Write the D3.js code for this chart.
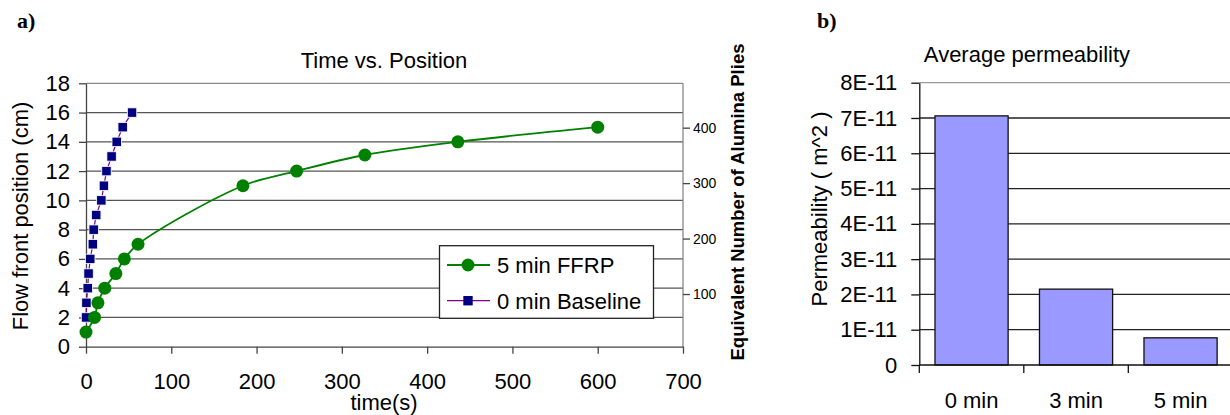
<!DOCTYPE html>
<html>
<head>
<meta charset="utf-8">
<script src="https://cdn.jsdelivr.net/npm/d3@7"></script>
<style>
	body { margin: 0; background: #fff; }
	svg text { font-family: "Liberation Sans", Arial, sans-serif; fill: #000; }
</style>
</head>
<body>
<svg id="fig" width="1230" height="415"></svg>
<script>
//Data
var ffrpTime = [0, 10, 14, 22, 35, 45, 61, 184, 247, 327, 436, 600];
var ffrpPos = [1, 2, 3, 4, 5, 6, 7, 11, 12, 13.1, 14, 15];
var baseTime = [0, 0.5, 2, 3, 5, 8, 9, 12, 18, 21, 24, 30, 36, 43, 54];
var basePos = [2, 3, 4, 5, 6, 7, 8, 9, 10, 11, 12, 13, 14, 15, 16];
var timeTicks = [0, 100, 200, 300, 400, 500, 600, 700];
var posTicks = [0, 2, 4, 6, 8, 10, 12, 14, 16, 18];
var pliesTicks = [100, 200, 300, 400];
var seriesNames = ["5 min FFRP", "0 min Baseline"];

var permCats = ["0 min", "3 min", "5 min"];
var permVals = [7.06e-11, 2.15e-11, 0.77e-11];
var permTicks = [0, 1e-11, 2e-11, 3e-11, 4e-11, 5e-11, 6e-11, 7e-11, 8e-11];
var permTickLabels = ["0", "1E-11", "2E-11", "3E-11", "4E-11", "5E-11", "6E-11", "7E-11", "8E-11"];

var ffrpColor = "#008000", baseColor = "#000080", baseLine = "#800080";
var gridColor = "#555", frameColor = "#888";

var svg = d3.select("#fig");

//Panel labels
svg.append("text").attr("x", 17).attr("y", 28)
	.style("font-family", "'Liberation Serif', serif").style("font-weight", "bold").style("font-size", "22px")
	.text("a)");
svg.append("text").attr("x", 817).attr("y", 28)
	.style("font-family", "'Liberation Serif', serif").style("font-weight", "bold").style("font-size", "22px")
	.text("b)");

//Start of panel a
var ax = d3.scaleLinear().domain([0, 700]).range([86, 683]);
var ay = d3.scaleLinear().domain([0, 18]).range([346.7, 83.3]);
var ay2 = d3.scaleLinear().domain([5, 480]).range([346.7, 83.3]);

var pa = svg.append("g");

	//grid
	pa.selectAll("line.grid")
		.data(posTicks.filter(function(d) { return d > 0 && d < 18; }))
		.enter()
		.append("line")
			.attr("class", "grid")
			.attr("x1", ax(0)).attr("x2", ax(700))
			.attr("y1", function(d) { return ay(d); })
			.attr("y2", function(d) { return ay(d); })
			.attr("stroke", gridColor).attr("stroke-width", 1.3);
	pa.append("line").attr("x1", ax(0)).attr("x2", ax(700)).attr("y1", ay(18)).attr("y2", ay(18))
		.attr("stroke", frameColor).attr("stroke-width", 1.3);
	pa.append("line").attr("x1", ax(700)).attr("x2", ax(700)).attr("y1", ay(18)).attr("y2", ay(0))
		.attr("stroke", frameColor).attr("stroke-width", 1.3);

	//axes
	var xAxisA = pa.append("g").attr("transform", "translate(0," + ay(0) + ")")
		.call(d3.axisBottom(ax).tickValues(timeTicks).tickSize(7).tickPadding(20).tickSizeOuter(0));
	var yAxisA = pa.append("g").attr("transform", "translate(" + ax(0) + ",0)")
		.call(d3.axisLeft(ay).tickValues(posTicks).tickSize(7).tickPadding(9).tickSizeOuter(0));
	var y2AxisA = pa.append("g").attr("transform", "translate(" + ax(700) + ",0)")
		.call(d3.axisRight(ay2).tickValues(pliesTicks).tickSize(7).tickPadding(3).tickSizeOuter(0));
	y2AxisA.select(".domain").remove();
	[xAxisA, yAxisA, y2AxisA].forEach(function(g) {
		g.selectAll("line").attr("stroke", "#444").attr("stroke-width", 1.3);
		g.select(".domain").attr("stroke", "#444").attr("stroke-width", 1.3);
		g.selectAll("text").style("font-family", "'Liberation Sans', Arial, sans-serif").attr("fill", "#000");
	});
	xAxisA.selectAll("text").style("font-size", "22px");
	yAxisA.selectAll("text").style("font-size", "22px");
	y2AxisA.selectAll("text").style("font-size", "14px");

	//titles
	pa.append("text").attr("x", 384).attr("y", 68).attr("text-anchor", "middle")
		.style("font-size", "22px").text("Time vs. Position");
	pa.append("text").attr("x", 384).attr("y", 410).attr("text-anchor", "middle")
		.style("font-size", "22px").text("time(s)");
	pa.append("text").attr("transform", "translate(28,216) rotate(-90)").attr("text-anchor", "middle")
		.style("font-size", "22px").text("Flow front position (cm)");
	pa.append("text").attr("transform", "translate(744,202) rotate(-90)").attr("text-anchor", "middle")
		.style("font-size", "18.5px").style("font-weight", "bold").text("Equivalent Number of Alumina Plies");

	//series
	var ffrpPoints = ffrpTime.map(function(t, i) { return {t: t, p: ffrpPos[i]}; });
	var basePoints = baseTime.map(function(t, i) { return {t: t, p: basePos[i]}; });
	var smoothGen = d3.line().x(function(d) { return ax(d.t); }).y(function(d) { return ay(d.p); })
		.curve(d3.curveCatmullRom.alpha(0.5));
	var lineGen = d3.line().x(function(d) { return ax(d.t); }).y(function(d) { return ay(d.p); });

	pa.append("path").attr("d", lineGen(basePoints))
		.attr("stroke", baseLine).attr("stroke-width", 1.2).attr("fill", "none");
	pa.append("path").attr("d", smoothGen(ffrpPoints))
		.attr("stroke", ffrpColor).attr("stroke-width", 1.8).attr("fill", "none");

	pa.selectAll("rect.basePt")
		.data(basePoints)
		.enter()
		.append("rect")
			.attr("class", "basePt")
			.attr("x", function(d) { return ax(d.t) - 4.7; })
			.attr("y", function(d) { return ay(d.p) - 4.7; })
			.attr("width", 9.4).attr("height", 9.4)
			.attr("fill", baseColor).attr("stroke", "#fff").attr("stroke-width", 0.8);
	pa.selectAll("circle.ffrpPt")
		.data(ffrpPoints)
		.enter()
		.append("circle")
			.attr("class", "ffrpPt")
			.attr("cx", function(d) { return ax(d.t); })
			.attr("cy", function(d) { return ay(d.p); })
			.attr("r", 6.5)
			.attr("fill", ffrpColor);

	//legend
	var leg = pa.append("g");
	leg.append("rect").attr("x", 439.5).attr("y", 245.7).attr("width", 214).attr("height", 72.6)
		.attr("fill", "#fff").attr("stroke", "#222").attr("stroke-width", 1.3);
	seriesNames.forEach(function(name, i) {
		var ly = 265 + i * 35.7;
		leg.append("line").attr("x1", 447).attr("x2", 490).attr("y1", ly).attr("y2", ly)
			.attr("stroke", i == 0 ? ffrpColor : baseLine).attr("stroke-width", i == 0 ? 1.8 : 1.2);
		if (i == 0) {
			leg.append("circle").attr("cx", 468).attr("cy", ly).attr("r", 6.5).attr("fill", ffrpColor);
		} else {
			leg.append("rect").attr("x", 463.3).attr("y", ly - 4.7).attr("width", 9.4).attr("height", 9.4)
				.attr("fill", baseColor);
		}
		leg.append("text").attr("x", 497).attr("y", ly + 8).style("font-size", "22px").text(name);
	});

//Start of panel b
var bx = d3.scaleBand().domain(permCats).range([919.3, 919.3 + 3 * 104.5]).paddingInner(0.3).paddingOuter(0.15);
var by = d3.scaleLinear().domain([0, 8e-11]).range([365, 82.7]);

var pb = svg.append("g");

	pb.selectAll("line.grid")
		.data(permTicks.filter(function(d) { return d > 0; }))
		.enter()
		.append("line")
			.attr("class", "grid")
			.attr("x1", 919.3).attr("x2", 1230)
			.attr("y1", function(d) { return by(d); })
			.attr("y2", function(d) { return by(d); })
			.attr("stroke", function(d) { return d == 8e-11 ? "#999" : "#222"; })
			.attr("stroke-width", 1.3);

	pb.selectAll("rect.bar")
		.data(permVals)
		.enter()
		.append("rect")
			.attr("class", "bar")
			.attr("x", function(d, i) { return bx(permCats[i]); })
			.attr("y", function(d) { return by(d); })
			.attr("width", bx.bandwidth())
			.attr("height", function(d) { return by(0) - by(d); })
			.attr("fill", "#9999ff").attr("stroke", "#111").attr("stroke-width", 1.3);

	var yAxisB = pb.append("g").attr("transform", "translate(919.3,0)")
		.call(d3.axisLeft(by).tickValues(permTicks).tickSize(8).tickPadding(14).tickSizeOuter(0)
			.tickFormat(function(d, i) { return permTickLabels[i]; }));
	var xAxisB = pb.append("g").attr("transform", "translate(0," + by(0) + ")")
		.call(d3.axisBottom(bx).tickSize(0).tickPadding(27).tickSizeOuter(0));
	xAxisB.select(".domain").attr("d", "M919.3,0H1230");
	//category separators
	xAxisB.selectAll("line.sep")
		.data([0, 1, 2])
		.enter()
		.append("line")
			.attr("class", "sep")
			.attr("x1", function(d) { return bx.range()[0] + d * bx.step(); })
			.attr("x2", function(d) { return bx.range()[0] + d * bx.step(); })
			.attr("y1", 0).attr("y2", 8)
			.attr("stroke", "#111").attr("stroke-width", 1.3);
	[xAxisB, yAxisB].forEach(function(g) {
		g.selectAll("line").attr("stroke", "#111").attr("stroke-width", 1.3);
		g.select(".domain").attr("stroke", "#111").attr("stroke-width", 1.3);
		g.selectAll("text").style("font-family", "'Liberation Sans', Arial, sans-serif")
			.style("font-size", "22px").attr("fill", "#000");
	});

	pb.append("text").attr("x", 1027).attr("y", 62).attr("text-anchor", "middle")
		.style("font-size", "22px").text("Average permeability");
	pb.append("text").attr("transform", "translate(827,209) rotate(-90)").attr("text-anchor", "middle")
		.style("font-size", "22px").attr("fill", "#333").text("Permeability ( m^2 )");
</script>
</body>
</html>
